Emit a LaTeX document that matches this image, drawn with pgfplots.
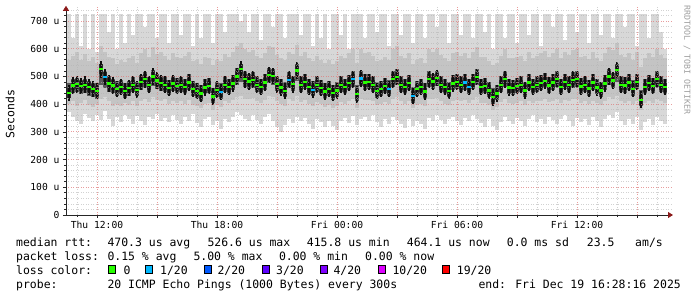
\documentclass[border=0pt]{standalone}
\usepackage{pgfplots}
\pgfplotsset{compat=1.18}
\usepackage{pgfplotstable}
\usepackage{fontspec}
\setmainfont{DejaVu Sans Mono}
\newfontfamily\mono{DejaVu Sans Mono}
\usetikzlibrary{arrows.meta}
\definecolor{smokeL}{HTML}{D8D8D8}
\definecolor{smokeM}{HTML}{C4C4C4}
\definecolor{smokeD}{HTML}{5A5A5A}
\definecolor{smokeC}{HTML}{2C2C2C}
\definecolor{smokeK}{HTML}{0E0E0E}
\definecolor{gridred}{HTML}{E07C7C}
\definecolor{gridgray}{HTML}{B4B4B4}
\definecolor{arrowc}{HTML}{8B1A1A}
\definecolor{l0}{HTML}{26FF00}
\definecolor{l1}{HTML}{00B8FF}
\definecolor{l2}{HTML}{0059FF}
\definecolor{l3}{HTML}{5E00FF}
\definecolor{l4}{HTML}{7E00FF}
\definecolor{l10}{HTML}{DD00FF}
\definecolor{l19}{HTML}{FF0000}

\pgfplotstableread{
t lo q1 d1 d2 q3 hi m
10.6 372 400 425 478 560 725 440
10.8 355 410 440 490 575 640 468
11.0 340 395 445 495 590 725 472
11.2 330 405 438 488 560 610 466
11.4 365 415 442 492 580 725 470
11.6 350 398 430 485 555 600 462
11.8 338 390 425 478 570 725 455
12.0 360 402 420 475 548 590 448
12.2 342 420 470 540 610 725 526
12.4 375 425 460 520 590 725 498
12.6 345 410 445 500 570 660 475
12.8 320 395 440 492 565 725 468
13.0 352 400 428 482 545 600 455
13.2 335 392 435 488 560 725 462
13.4 362 405 422 478 552 620 448
13.6 348 398 430 485 568 725 458
13.8 330 410 445 498 575 650 470
14.0 358 395 428 480 550 725 452
14.2 340 412 452 505 585 725 480
14.4 325 420 460 515 600 680 490
14.6 355 408 445 498 570 725 470
14.8 345 425 465 525 605 725 500
15.0 365 415 455 510 580 640 485
15.2 338 410 448 502 590 725 476
15.4 350 418 445 500 575 725 470
15.6 335 400 432 488 560 620 458
15.8 360 412 448 502 585 725 475
16.0 342 405 440 495 570 725 466
16.2 330 410 445 498 565 650 470
16.4 355 402 436 490 575 725 462
16.6 340 415 450 508 590 725 478
16.8 365 398 430 485 555 610 455
17.0 332 395 422 478 560 725 448
17.2 318 385 412 470 545 640 438
17.4 345 400 435 490 570 725 460
17.6 352 405 440 494 565 725 465
17.8 325 380 405 460 540 620 428
18.0 340 396 425 480 560 725 452
18.2 310 388 420 476 555 725 444
18.4 348 412 445 500 580 660 470
18.6 335 405 438 492 570 725 462
18.8 355 415 450 505 590 725 475
19.0 370 425 470 530 610 725 500
19.2 360 430 480 545 620 700 526
19.4 345 420 462 518 600 725 490
19.6 338 418 455 510 590 660 482
19.8 362 422 460 515 595 725 488
20.0 342 410 445 500 575 725 470
20.2 330 405 438 492 565 630 462
20.4 352 415 452 508 585 725 478
20.6 365 428 475 530 610 725 505
20.8 340 425 470 528 605 680 502
21.0 318 410 448 502 578 725 472
21.2 300 400 435 490 565 725 460
21.4 325 395 425 480 560 640 448
21.6 345 418 460 515 590 725 488
21.8 332 410 448 502 580 725 472
22.0 355 430 485 545 615 725 522
22.2 340 408 445 500 575 650 470
22.4 350 415 455 508 590 725 480
22.6 328 402 438 492 565 725 462
22.8 312 395 428 482 555 610 452
23.0 345 408 445 500 575 725 470
23.2 335 400 432 488 560 640 458
23.4 318 390 420 478 550 725 446
23.6 340 398 430 485 560 600 455
23.8 322 385 415 470 545 725 440
24.0 305 392 425 480 555 725 450
24.2 338 408 445 500 575 650 470
24.4 350 402 436 492 565 725 462
24.6 332 412 450 505 585 600 476
24.8 358 420 462 518 600 725 490
25.0 325 385 412 468 548 725 436
25.2 345 420 465 520 600 725 492
25.4 355 415 452 508 585 640 478
25.6 338 415 455 510 590 725 480
25.8 362 410 445 500 575 725 470
26.0 335 398 422 480 555 660 448
26.2 318 400 430 485 560 725 455
26.4 345 408 440 495 570 725 466
26.6 330 400 430 486 560 610 455
26.8 355 420 462 518 600 725 490
27.0 342 425 470 528 610 725 498
27.2 328 410 445 500 575 650 470
27.4 315 402 436 492 565 725 462
27.6 348 412 450 505 585 725 476
27.8 322 385 405 462 545 620 430
28.0 340 398 430 485 560 725 455
28.2 330 402 436 492 568 725 462
28.4 312 392 420 476 550 640 445
28.6 350 420 462 518 600 725 490
28.8 338 418 455 510 590 725 482
29.0 360 422 465 520 600 680 494
29.2 342 410 445 500 578 725 470
29.4 330 402 436 492 565 725 462
29.6 345 396 425 480 555 620 448
29.8 355 412 450 505 585 725 475
30.0 338 415 455 510 590 725 480
30.2 325 410 445 500 575 650 470
30.4 350 415 452 508 585 725 478
30.6 340 405 436 492 565 725 462
30.8 360 415 455 510 590 640 480
31.0 345 425 470 528 605 725 498
31.2 332 405 436 492 570 725 462
31.4 318 405 440 495 572 660 466
31.6 345 398 425 480 555 725 450
31.8 320 380 402 458 540 600 425
32.0 305 388 415 470 548 725 438
32.2 335 408 445 500 575 725 470
32.4 355 420 462 518 600 640 490
32.6 340 405 435 490 568 725 460
32.8 328 402 432 488 565 725 458
33.0 350 405 440 494 570 620 465
33.2 338 410 445 500 575 725 470
33.4 320 398 425 480 555 725 450
33.6 345 412 452 508 588 650 478
33.8 360 405 436 492 565 725 462
34.0 335 410 445 500 575 725 470
34.2 348 412 450 505 585 610 476
34.4 330 418 458 512 592 725 484
34.6 355 408 442 498 572 725 468
34.8 342 412 452 508 585 680 478
35.0 328 420 462 518 600 725 490
35.2 345 405 436 492 565 725 462
35.4 360 415 455 510 590 630 480
35.6 338 410 445 500 578 725 470
35.8 322 418 460 515 595 725 488
36.0 350 420 462 518 600 660 490
36.2 335 405 438 494 570 725 464
36.4 348 410 445 500 575 725 470
36.6 325 400 430 486 562 620 456
36.8 355 412 452 508 588 725 478
37.0 340 405 436 492 568 725 460
37.2 318 398 425 480 555 650 450
37.4 345 410 450 505 585 725 475
37.6 362 425 470 528 608 725 500
37.8 350 418 458 512 595 640 485
38.0 370 430 480 545 620 725 523
38.2 338 410 445 500 578 725 470
38.4 325 405 442 498 572 680 468
38.6 345 412 452 508 585 725 478
38.8 330 400 430 486 560 725 455
39.0 352 412 455 510 590 610 480
39.2 305 380 395 450 535 725 416
39.4 335 405 436 492 568 725 462
39.6 348 412 450 505 585 640 476
39.8 325 405 440 495 570 725 465
40.0 355 420 462 518 600 725 490
40.2 340 410 445 500 578 660 470
40.4 330 405 436 492 565 600 462
}\smoke

\pgfplotstableread{
t m
12.4 498
18.2 444
21.6 488
22.8 452
24.8 490
25.2 492
26.6 455
27.8 430
30.4 478
30.6 462
}\lossone

\begin{document}
\begin{tikzpicture}
\useasboundingbox (-66bp,-82bp) rectangle (631bp,215bp);
\begin{axis}[
  scale only axis, width=607bp, height=209.2bp,
  xmin=10.45, xmax=40.8, ymin=0, ymax=755,
  axis lines=left, axis on top,
  axis line style={line width=0.8bp, black!85, -{Triangle[length=5bp,width=6bp,color=arrowc]}},
  xtick={12,15,...,39},
  xticklabels={Thu 12:00,,Thu 18:00,,Fri 00:00,,Fri 06:00,,Fri 12:00,},
  minor xtick={11,13,14,16,17,19,20,22,23,25,26,28,29,31,32,34,35,37,38,40},
  ytick={0,100,...,700},
  yticklabels={0,100 u,200 u,300 u,400 u,500 u,600 u,700 u},
  minor ytick={20,40,60,80,120,140,160,180,220,240,260,280,320,340,360,380,420,440,460,480,520,540,560,580,620,640,660,680,720,740},
  grid=both,
  major grid style={draw=gridred, draw opacity=0.75, line width=0.8bp, dash pattern=on 1bp off 1.5bp},
  minor grid style={draw=gridgray, draw opacity=0.6, line width=0.8bp, dash pattern=on 1bp off 1.5bp},
  tick align=outside, major tick length=3bp, minor tick length=1.5bp,
  tick style={black!85, line width=0.7bp},
  ticklabel style={font=\mono\fontsize{9.7}{10}\selectfont, text=black},
  /pgf/number format/assume math mode=true,
]
\addplot[forget plot, draw=none, mark=none, error bars/.cd, y dir=plus, y explicit, error mark=none,
  error bar style={line width=4.4bp, draw=smokeL, line cap=butt}]
  table[x=t, y=lo, y error plus expr={\thisrow{hi}-\thisrow{lo}}] {\smoke};
\addplot[forget plot, draw=none, mark=none, error bars/.cd, y dir=plus, y explicit, error mark=none,
  error bar style={line width=4.4bp, draw=smokeM, line cap=butt}]
  table[x=t, y=q1, y error plus expr={\thisrow{q3}-\thisrow{q1}}] {\smoke};
\addplot[forget plot, draw=none, mark=none, error bars/.cd, y dir=plus, y explicit, error mark=none,
  error bar style={line width=4.4bp, draw=smokeD, line cap=butt}]
  table[x=t, y=d1, y error plus expr={\thisrow{d2}-\thisrow{d1}}] {\smoke};
\addplot[forget plot, draw=none, mark=none, error bars/.cd, y dir=both, y fixed=18, error mark=none,
  error bar style={line width=4.4bp, draw=smokeC, line cap=butt}]
  table[x=t, y=m] {\smoke};
\addplot[forget plot, draw=none, mark=none, error bars/.cd, y dir=both, y fixed=30, error mark=none,
  error bar style={line width=1.4bp, draw=smokeK, line cap=butt}]
  table[x=t, y=m] {\smoke};
\addplot[only marks, mark=-, mark size=1.7bp, mark options={draw=l0, line width=2.4bp}]
  table[x=t, y=m] {\smoke};
\addplot[only marks, mark=-, mark size=1.7bp, mark options={draw=l1, line width=2.4bp}]
  table[x=t, y=m] {\lossone};
\end{axis}
% y label and watermark
\node[rotate=90, font=\mono\fontsize{11.5}{12}\selectfont] at (-56bp,101bp) {Seconds};
\node[rotate=-90, anchor=west, inner sep=0pt, text=black!38, font=\mono\fontsize{8.3}{9}\selectfont] at (621bp,210bp) {RRDTOOL / TOBI OETIKER};
% legend lines
\begin{scope}[every node/.style={anchor=base west, inner sep=0pt, font=\mono\fontsize{11.5}{12}\selectfont}]
\node at (-50bp,-31bp) {median rtt:};
\node at (41.3bp,-31bp) {470.3 us avg};
\node at (141.3bp,-31bp) {526.6 us max};
\node at (240.7bp,-31bp) {415.8 us min};
\node at (340.7bp,-31bp) {464.1 us now};
\node at (440.7bp,-31bp) {0.0 ms sd};
\node at (520.7bp,-31bp) {23.5};
\node at (569bp,-31bp) {am/s};
\node at (-50bp,-45bp) {packet loss:};
\node at (41.3bp,-45bp) {0.15 \% avg};
\node at (127.3bp,-45bp) {5.00 \% max};
\node at (212.8bp,-45bp) {0.00 \% min};
\node at (299bp,-45bp) {0.00 \% now};
\node at (-50bp,-59bp) {loss color:};
\node at (57.3bp,-59bp) {0};
\node at (94bp,-59bp) {1/20};
\node at (151.3bp,-59bp) {2/20};
\node at (210bp,-59bp) {3/20};
\node at (267.3bp,-59bp) {4/20};
\node at (326.3bp,-59bp) {10/20};
\node at (390.7bp,-59bp) {19/20};
\node at (-50bp,-73bp) {probe:};
\node at (41.3bp,-73bp) {20 ICMP Echo Pings (1000 Bytes) every 300s};
\node at (412.3bp,-73bp) {end: Fri Dec 19 16:28:16 2025};
\end{scope}
\begin{scope}[line width=0.8bp]
\filldraw[fill=l0,draw=black] (42.3bp,-50bp) rectangle ++(7bp,-8bp);
\filldraw[fill=l1,draw=black] (79.7bp,-50bp) rectangle ++(7bp,-8bp);
\filldraw[fill=l2,draw=black] (138bp,-50bp) rectangle ++(7bp,-8bp);
\filldraw[fill=l3,draw=black] (196bp,-50bp) rectangle ++(7bp,-8bp);
\filldraw[fill=l4,draw=black] (254bp,-50bp) rectangle ++(7bp,-8bp);
\filldraw[fill=l10,draw=black] (312.3bp,-50bp) rectangle ++(7bp,-8bp);
\filldraw[fill=l19,draw=black] (376.3bp,-50bp) rectangle ++(7bp,-8bp);
\end{scope}
\end{tikzpicture}
\end{document}
